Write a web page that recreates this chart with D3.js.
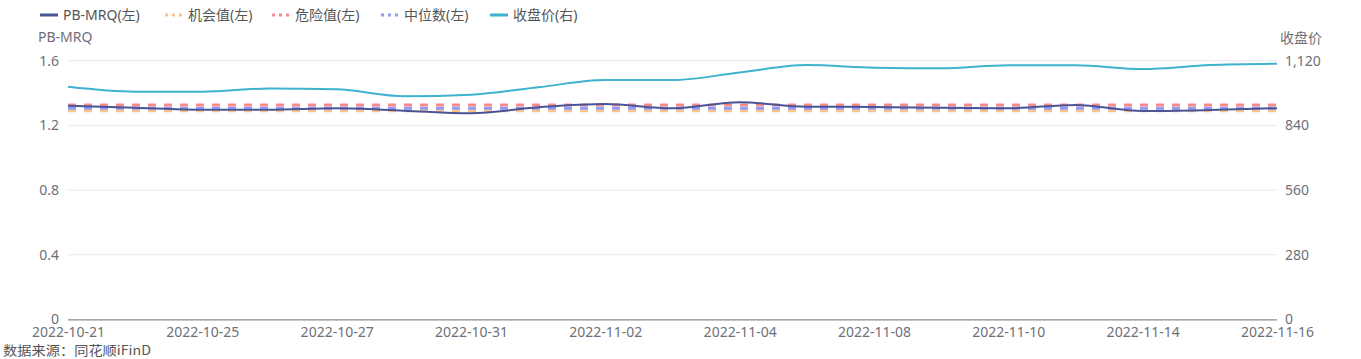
<!DOCTYPE html>
<html><head><meta charset="utf-8">
<script src="https://cdn.jsdelivr.net/npm/d3@7"></script>
<style>
html,body{margin:0;padding:0;background:#fff;}
svg text{font-family:"Noto Sans","Noto Sans CJK SC",sans-serif;}
</style></head>
<body><svg id="chart" width="1361" height="359"></svg>
<script>
const dates = ["2022-10-21","2022-10-24","2022-10-25","2022-10-26","2022-10-27","2022-10-28","2022-10-31","2022-11-01","2022-11-02","2022-11-03","2022-11-04","2022-11-07","2022-11-08","2022-11-09","2022-11-10","2022-11-11","2022-11-14","2022-11-15","2022-11-16"];
const pbMRQ = [1.322,1.309,1.297,1.297,1.306,1.291,1.275,1.312,1.332,1.306,1.343,1.315,1.314,1.309,1.306,1.326,1.289,1.295,1.306];
const closePrice = [1007,986,986,1000,996,966,973,1005,1036,1036,1069,1101,1090,1087,1100,1100,1084,1101,1107];
const opportunityValue = 1.291;
const dangerValue = 1.326;
const medianValue = 1.3055;
const leftTicks = [0,0.4,0.8,1.2,1.6];
const rightTicks = [0,280,560,840,1120];
const legendNames = ["PB-MRQ(左)","机会值(左)","危险值(左)","中位数(左)","收盘价(右)"];

const svg = d3.select("#chart");
const L = 68, R = 1277, T = 60.7, B = 319.4;
const axisColor = "#6E7079";
const colors = {pb:"#4a5597", opp:"#fdc38a", danger:"#f7898a", median:"#8e9cf5", close:"#3fb2cd"};

const x = d3.scalePoint().domain(dates).range([L, R]);
const yL = d3.scaleLinear().domain([0,1.6]).range([B, T]);
const yR = d3.scaleLinear().domain([0,1120]).range([B, T]);

// grid
svg.append("g").selectAll("line").data(leftTicks.filter(d=>d>0)).join("line")
  .attr("x1", L).attr("x2", R).attr("y1", d=>yL(d)).attr("y2", d=>yL(d))
  .attr("stroke", "#E6E8F3").attr("stroke-width", 1);

// left axis
const gL = svg.append("g").attr("transform", `translate(${L},0)`)
  .call(d3.axisLeft(yL).tickValues(leftTicks).tickSize(0).tickPadding(9)
  .tickFormat(d => d===0 ? "0" : d3.format(".1f")(d)));
gL.select(".domain").remove();
gL.selectAll("text").attr("fill", axisColor).style("font-size","14px");

// right axis
const gR = svg.append("g").attr("transform", `translate(${R},0)`)
  .call(d3.axisRight(yR).tickValues(rightTicks).tickSize(0).tickPadding(8)
  .tickFormat(d3.format(",")));
gR.select(".domain").remove();
gR.selectAll("text").attr("fill", axisColor).style("font-size","14px");

// x axis
const gX = svg.append("g").attr("transform", `translate(0,${B})`)
  .call(d3.axisBottom(x).tickValues(dates.filter((d,i)=>i%2===0)).tickSize(0).tickPadding(8));
gX.select(".domain").attr("stroke", axisColor).attr("d", `M${L},0.5H${R}`);
gX.selectAll("text").attr("fill", axisColor).style("font-size","14px");

// axis names
svg.append("text").attr("x", 38).attr("y", 42).attr("fill", axisColor).style("font-size","14px").text("PB-MRQ");
svg.append("text").attr("x", 1280).attr("y", 43).attr("fill", axisColor).style("font-size","14px").text("收盘价");

// reference lines
const refs = [[opportunityValue, colors.opp],[medianValue, colors.median],[dangerValue, colors.danger]];
refs.forEach(([v,c]) => {
  svg.append("line").attr("x1", L).attr("x2", R).attr("y1", yL(v)).attr("y2", yL(v))
    .attr("stroke", c).attr("stroke-width", 3).attr("stroke-dasharray", "8,8");
});

// close line
const lineR = d3.line().x((d,i)=>x(dates[i])).y(d=>yR(d)).curve(d3.curveMonotoneX);
svg.append("path").datum(closePrice).attr("d", lineR).attr("fill","none")
  .attr("stroke", colors.close).attr("stroke-width", 2);

// PB line
const lineL = d3.line().x((d,i)=>x(dates[i])).y(d=>yL(d)).curve(d3.curveMonotoneX);
svg.append("path").datum(pbMRQ).attr("d", lineL).attr("fill","none")
  .attr("stroke", colors.pb).attr("stroke-width", 2);

// legend
const legendX = [40,165,272,381,490];
const legendColors = [colors.pb, colors.opp, colors.danger, colors.median, colors.close];
const legendDotted = [false,true,true,true,false];
legendNames.forEach((n,i) => {
  const g = svg.append("g").attr("transform", `translate(${legendX[i]},15)`);
  g.append("line").attr("x1",0).attr("x2",18).attr("y1",0).attr("y2",0)
    .attr("stroke", legendColors[i]).attr("stroke-width", 3)
    .attr("stroke-dasharray", legendDotted[i] ? "3,4" : null);
  g.append("text").attr("x", 23).attr("y", 5).attr("fill", "#555").style("font-size","14px").text(n);
});

// source
svg.append("text").attr("x", 3).attr("y", 355).attr("fill", "#555")
  .style("font-size","13px").attr("textLength", 148).attr("lengthAdjust","spacingAndGlyphs")
  .style("font-family", "'Noto Sans CJK SC',monospace").text("数据来源：同花顺iFinD");
</script></body></html>
